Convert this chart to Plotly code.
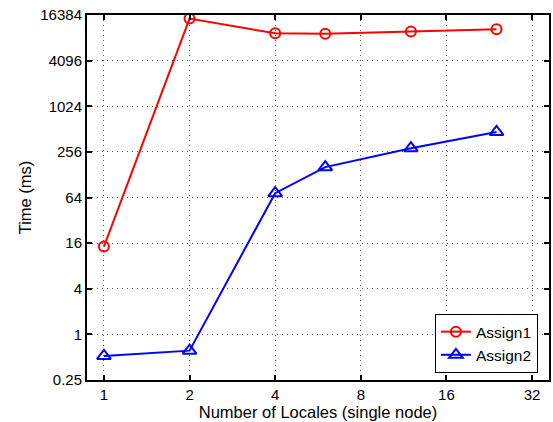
import plotly.graph_objects as go
import math

locales = [1, 2, 4, 6, 12, 24]
assign1 = [14.4, 14700, 9400, 9300, 9900, 10600]
assign2 = [0.52, 0.61, 73, 161, 286, 469]
x_ticks = [1, 2, 4, 8, 16, 32]
y_ticks = [0.25, 1, 4, 16, 64, 256, 1024, 4096, 16384]
y_tick_labels = ["0.25", "1", "4", "16", "64", "256", "1024", "4096", "16384"]

font = "Liberation Sans, Arial, sans-serif"

fig = go.Figure()
fig.add_trace(go.Scatter(
    x=locales, y=assign1, name="Assign1", mode="lines+markers",
    line=dict(color="#ff0000", width=2),
    marker=dict(symbol="circle-open", size=10, color="#ff0000", line=dict(width=2)),
))
fig.add_trace(go.Scatter(
    x=locales, y=assign2, name="Assign2", mode="lines+markers",
    line=dict(color="#0000ff", width=2),
    marker=dict(symbol="triangle-up-open", size=12, color="#0000ff", line=dict(width=2)),
))

grid = dict(showgrid=True, gridcolor="#555555", griddash="1px,4px", gridwidth=1)

fig.update_layout(
    width=553, height=422,
    margin=dict(l=87, r=2, t=15, b=42),
    paper_bgcolor="white", plot_bgcolor="white",
    font=dict(family=font, size=14, color="black"),
    showlegend=True,
    legend=dict(
        x=0.976, y=0.019, xanchor="right", yanchor="bottom",
        bgcolor="white", bordercolor="black", borderwidth=1,
        font=dict(size=15.5), tracegroupgap=0,
    ),
    xaxis=dict(
        type="log", range=[math.log10(0.872), math.log10(36.7)],
        tickvals=x_ticks, ticktext=[str(v) for v in x_ticks],
        ticks="inside", ticklen=5, tickwidth=1.5, tickcolor="black",
        showline=True, linecolor="black", linewidth=2, mirror="ticks",
        zeroline=False, **grid,
        title=dict(text="Number of Locales (single node)", font=dict(size=16.5), standoff=1),
        tickfont=dict(size=15),
    ),
    yaxis=dict(
        type="log", range=[math.log10(0.25), math.log10(16384)],
        tickvals=y_ticks, ticktext=y_tick_labels,
        ticks="inside", ticklen=5, tickwidth=1.5, tickcolor="black",
        showline=True, linecolor="black", linewidth=2, mirror="ticks",
        zeroline=False, **grid,
        title=dict(text="Time (ms)", font=dict(size=16.5), standoff=5),
        tickfont=dict(size=15),
    ),
)

fig.write_html("out.html")
